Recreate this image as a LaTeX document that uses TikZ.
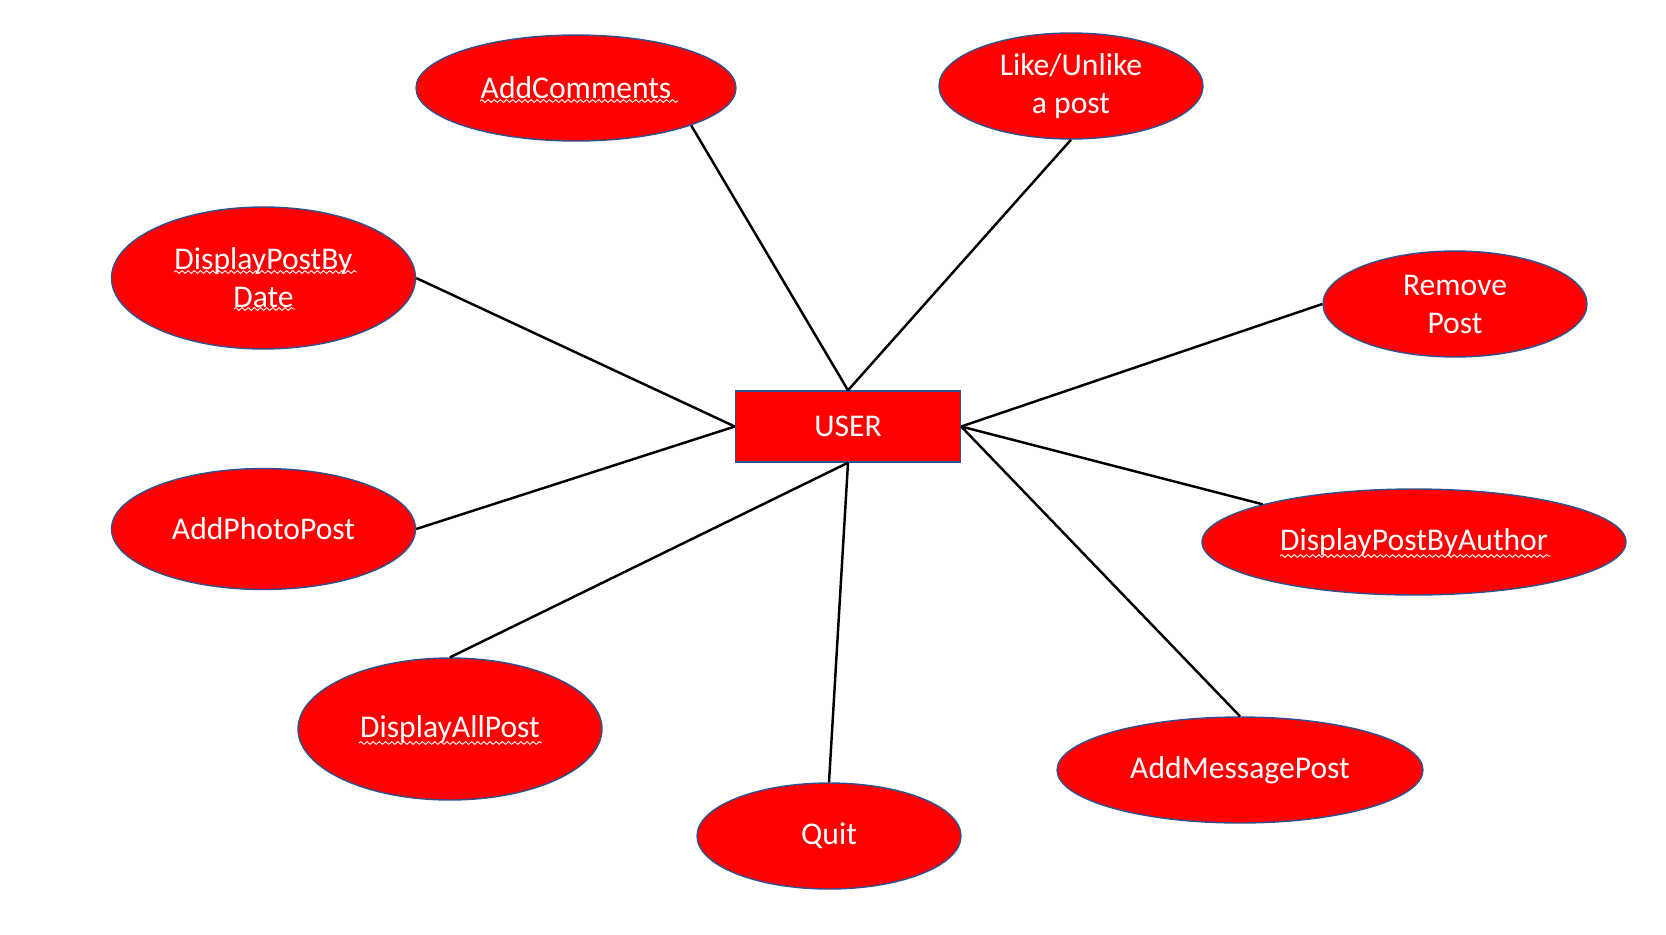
\documentclass[tikz,border=0pt]{standalone}
\usepackage{fontspec}
\setmainfont{Carlito}
\usetikzlibrary{shapes.geometric,decorations.pathmorphing}
\definecolor{obord}{HTML}{2F528F}
\tikzset{
  uc/.style={ellipse, draw=obord, line width=0.8pt, fill=red, text=white, inner sep=0pt,
    font=\fontsize{18}{21.6}\selectfont, align=center, minimum width=#1},
  uc/.default=5.28cm,
  actor/.style={rectangle, draw=obord, line width=0.8pt, fill=red, text=white, inner sep=0pt,
    font=\fontsize{18}{21.6}\selectfont, minimum width=4.5cm, minimum height=1.42cm},
  link/.style={draw=black, line width=1.4pt},
  wave/.style={draw=white, line width=0.5pt, decorate, decoration={snake, amplitude=0.8pt, segment length=3.5pt}}
}
\begin{document}
\begin{tikzpicture}[x=0.02cm, y=-0.02cm]
\useasboundingbox (0,0) rectangle (1666,934);
\node[actor] (user) at (848,426.5) {USER};
\node[uc=6.4cm, minimum height=2.12cm] (ac) at (576,88) {AddComments};
\node[uc=5.28cm, minimum height=2.12cm] (like) at (1071,86) {Like/Unlike\\a post};
\node[uc=6.08cm, minimum height=2.84cm] (dpbd) at (263.5,278) {DisplayPostBy\\Date};
\node[uc=5.28cm, minimum height=2.12cm] (rp) at (1455,304) {Remove\\Post};
\node[uc=6.08cm, minimum height=2.42cm] (app) at (263.5,529) {AddPhotoPost};
\node[uc=8.48cm, minimum height=2.12cm] (dpba) at (1414,542) {DisplayPostByAuthor};
\node[uc=6.08cm, minimum height=2.84cm] (dap) at (450,729) {DisplayAllPost};
\node[uc=5.28cm, minimum height=2.12cm] (quit) at (829,836) {Quit};
\node[uc=7.32cm, minimum height=2.12cm] (amp) at (1240,770) {AddMessagePost};
\draw[wave] (480,101) -- (678,101);
\draw[wave] (174,272) -- (357,272);
\draw[wave] (234,309) -- (295,309);
\draw[wave] (1280,556) -- (1551,556);
\draw[wave] (359,743) -- (542,743);
\draw[link] (ac.-18) -- (user.north);
\draw[link] (like.south) -- (user.north);
\draw[link] (dpbd.east) -- (user.west);
\draw[link] (app.east) -- (user.west);
\draw[link] (rp.west) -- (user.east);
\draw[link] (dpba.166) -- (user.east);
\draw[link] (amp.north) -- (user.east);
\draw[link] (quit.north) -- (user.south);
\draw[link] (dap.north) -- (user.south);
\end{tikzpicture}
\end{document}
